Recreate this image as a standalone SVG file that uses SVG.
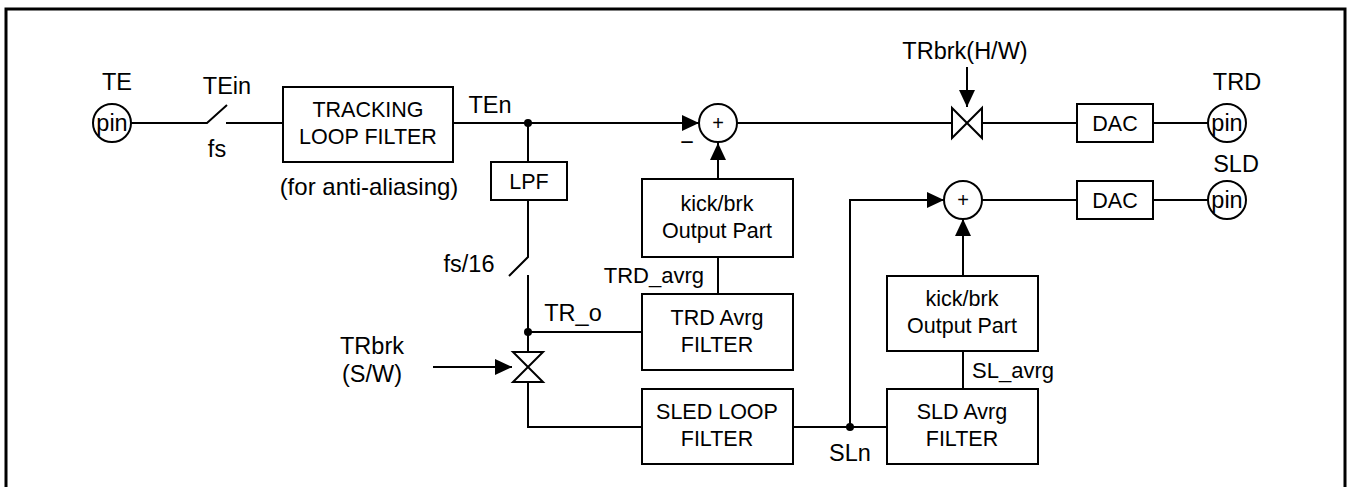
<svg xmlns="http://www.w3.org/2000/svg" width="1348" height="487" viewBox="0 0 1348 487">
<style>
.b{fill:#fff;stroke:#000;stroke-width:2}
.l{fill:none;stroke:#000;stroke-width:2}
.a{fill:none;stroke:#000;stroke-width:2;marker-end:url(#ar)}
text{font-family:"Liberation Sans",Arial,sans-serif;font-size:21.5px;fill:#000;text-anchor:middle}
.lb{font-size:23.5px}
.s{font-size:20px}
</style>
<defs>
<marker id="ar" markerUnits="userSpaceOnUse" markerWidth="17" markerHeight="16" refX="17" refY="8" orient="auto">
<path d="M0,0 L17,8 L0,16 Z" fill="#000"/>
</marker>
</defs>
<rect width="1348" height="487" fill="#fff"/>
<path d="M6,490 V9 H1345 V490" fill="none" stroke="#000" stroke-width="3"/>

<g id="connectors">
<path class="l" d="M131,123 H207 L227,105"/>
<path class="l" d="M226,123 H283"/>
<path class="a" d="M453,123 H699"/>
<path class="l" d="M528,123 V162"/>
<path class="l" d="M528,200 V257 L509,276"/>
<path class="l" d="M528,275 V352"/>
<path class="l" d="M528,332 H642"/>
<path class="l" d="M528,382 V427 H642"/>
<path class="a" d="M718,179 V143"/>
<path class="l" d="M718,294 V257"/>
<path class="l" d="M737,123 H952"/>
<path class="l" d="M982,123 H1077"/>
<path class="l" d="M1153,123 H1208"/>
<path class="a" d="M967,67 V107"/>
<path class="a" d="M433,367 H512"/>
<path class="l" d="M793,427 H887"/>
<path class="a" d="M850,427 V200 H944"/>
<path class="a" d="M963,276 V219"/>
<path class="l" d="M963,389 V351"/>
<path class="l" d="M982,200 H1077"/>
<path class="l" d="M1153,200 H1208"/>
<circle cx="528" cy="123" r="4"/>
<circle cx="528" cy="332" r="4"/>
<circle cx="850" cy="427" r="4"/>
</g>

<g id="pin-te">
<circle class="b" cx="112" cy="123" r="19"/>
<text class="lb" x="112" y="131">pin</text>
<text class="lb" x="117" y="90">TE</text>
</g>
<g id="switch-fs">
<text class="lb" x="227" y="94">TEin</text>
<text class="lb" x="217" y="157">fs</text>
</g>
<g id="tracking-loop-filter">
<rect class="b" x="283" y="87" width="170" height="75"/>
<text x="368" y="117">TRACKING</text>
<text x="368" y="144">LOOP FILTER</text>
<text x="369" y="195" style="font-size:24px">(for anti-aliasing)</text>
</g>
<text class="lb" x="490" y="113">TEn</text>
<g id="lpf">
<rect class="b" x="491" y="162" width="76" height="38"/>
<text x="529" y="189">LPF</text>
</g>
<g id="switch-fs16">
<text class="lb" x="469" y="272">fs/16</text>
</g>
<text class="lb" x="573" y="321">TR_o</text>
<g id="sum1">
<circle class="b" cx="718" cy="123" r="19"/>
<text class="s" x="718" y="130">+</text>
<text class="lb" x="687" y="150">−</text>
</g>
<g id="kick-brk-1">
<rect class="b" x="642" y="179" width="151" height="78"/>
<text x="717" y="211">kick/brk</text>
<text x="717" y="238">Output Part</text>
</g>
<text x="704" y="283" style="text-anchor:end;font-size:22px">TRD_avrg</text>
<g id="trd-avrg-filter">
<rect class="b" x="642" y="294" width="151" height="76"/>
<text x="717" y="325">TRD Avrg</text>
<text x="717" y="352">FILTER</text>
</g>
<g id="trbrk-sw">
<path class="b" d="M513,352 H543 L513,382 H543 Z"/>
<text class="lb" x="372" y="354">TRbrk</text>
<text class="lb" x="372" y="382">(S/W)</text>
</g>
<g id="sled-loop-filter">
<rect class="b" x="642" y="389" width="151" height="75"/>
<text x="717" y="419">SLED LOOP</text>
<text x="717" y="446">FILTER</text>
</g>
<text class="lb" x="850" y="461">SLn</text>
<g id="trbrk-hw">
<path class="b" d="M952,108 V138 L982,108 V138 Z"/>
<text class="lb" x="965" y="59">TRbrk(H/W)</text>
</g>
<g id="dac1">
<rect class="b" x="1077" y="104" width="76" height="38"/>
<text x="1115" y="131">DAC</text>
</g>
<g id="pin-trd">
<circle class="b" cx="1227" cy="123" r="19"/>
<text class="lb" x="1227" y="131">pin</text>
<text class="lb" x="1237" y="90">TRD</text>
</g>
<g id="sum2">
<circle class="b" cx="963" cy="200" r="19"/>
<text class="s" x="963" y="207">+</text>
</g>
<g id="dac2">
<rect class="b" x="1077" y="181" width="76" height="38"/>
<text x="1115" y="208">DAC</text>
</g>
<g id="pin-sld">
<circle class="b" cx="1227" cy="200" r="19"/>
<text class="lb" x="1227" y="208">pin</text>
<text class="lb" x="1236" y="172">SLD</text>
</g>
<g id="kick-brk-2">
<rect class="b" x="887" y="276" width="151" height="75"/>
<text x="962" y="306">kick/brk</text>
<text x="962" y="333">Output Part</text>
</g>
<text x="972" y="378" style="text-anchor:start;font-size:22px">SL_avrg</text>
<g id="sld-avrg-filter">
<rect class="b" x="887" y="389" width="151" height="75"/>
<text x="962" y="419">SLD Avrg</text>
<text x="962" y="446">FILTER</text>
</g>
</svg>
